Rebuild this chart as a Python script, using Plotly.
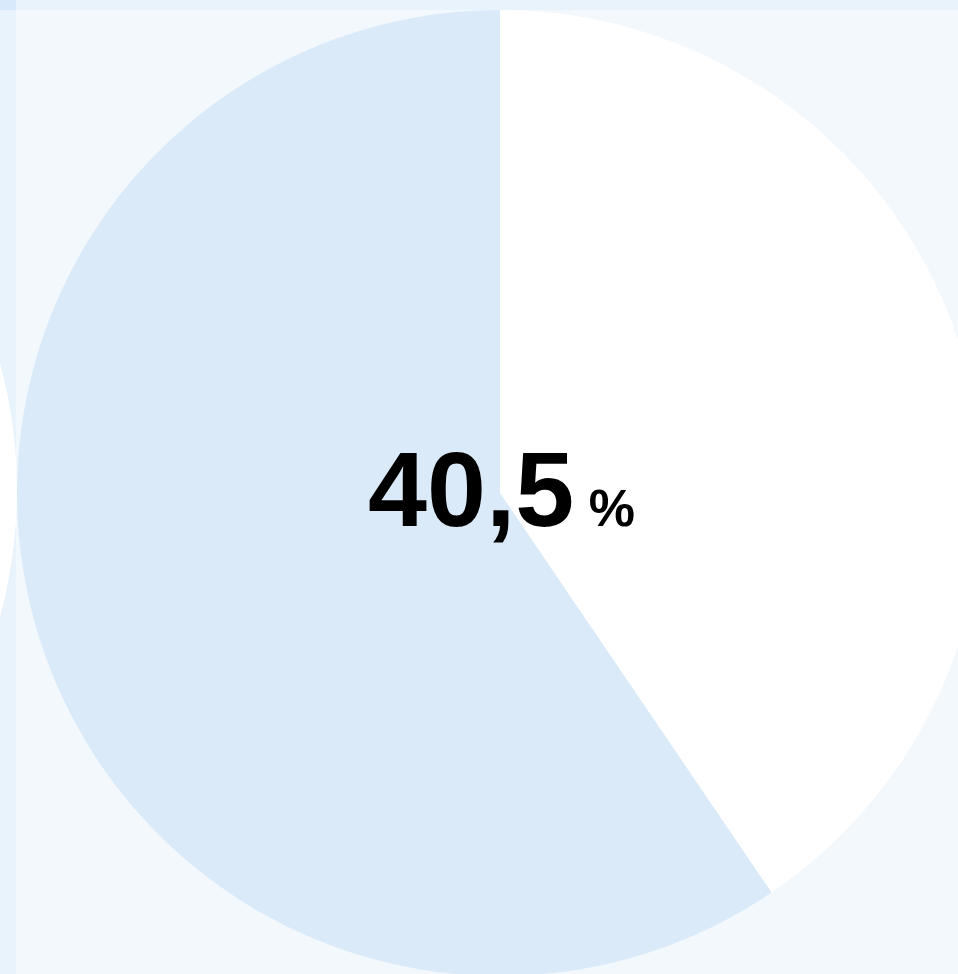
import plotly.graph_objects as go

# share shown in the pie (percent) and the remainder
labels = ["Anteil", "Rest"]
values = [40.5, 59.5]
colors = ["#ffffff", "#dbeaf8"]
center_value = "40,5"
center_unit = "%"

# canvas is a bit larger than the window, the window crops it like the screenshot
W, H = 1000, 1000


def px_x(x):
    return x / W


def px_y(y):
    # y measured from the top of the page
    return 1 - y / H


fig = go.Figure(go.Pie(
    labels=labels,
    values=values,
    sort=False,
    direction="clockwise",
    rotation=0,
    marker=dict(colors=colors, line=dict(width=0)),
    textinfo="none",
    hoverinfo="skip",
    showlegend=False,
    domain=dict(x=[px_x(17), px_x(983)], y=[px_y(976), px_y(10)]),
))

fig.update_layout(
    width=W, height=H,
    margin=dict(l=0, r=0, t=0, b=0),
    paper_bgcolor="#f3f8fd",
    plot_bgcolor="#f3f8fd",
    shapes=[
        # left strip of the neighbouring panel
        dict(type="rect", xref="paper", yref="paper", layer="below",
             x0=0, x1=px_x(16), y0=0, y1=1,
             fillcolor="#e8f3fc", line=dict(width=0)),
        # white slice of the neighbouring pie
        dict(type="circle", xref="paper", yref="paper", layer="below",
             x0=px_x(-949), x1=px_x(17), y0=px_y(973), y1=px_y(7),
             fillcolor="#ffffff", line=dict(width=0)),
        # top strip
        dict(type="rect", xref="paper", yref="paper", layer="above",
             x0=0, x1=1, y0=px_y(10), y1=1,
             fillcolor="#e8f3fc", line=dict(width=0)),
        dict(type="rect", xref="paper", yref="paper", layer="above",
             x0=0, x1=px_x(16), y0=px_y(10), y1=1,
             fillcolor="#d7e9fa", line=dict(width=0)),
    ],
    annotations=[dict(
        x=px_x(501), y=px_y(489), xref="paper", yref="paper",
        xanchor="center", yanchor="middle", showarrow=False,
        text=f"<b>{center_value}<span style='font-size:52px'> {center_unit}</span></b>",
        font=dict(family="Liberation Sans, Arial, sans-serif", size=106, color="#000000"),
    )],
)

fig.write_html("out.html", config={"displayModeBar": False},
               post_script="document.body.style.margin='0';document.body.style.overflow='hidden';")
